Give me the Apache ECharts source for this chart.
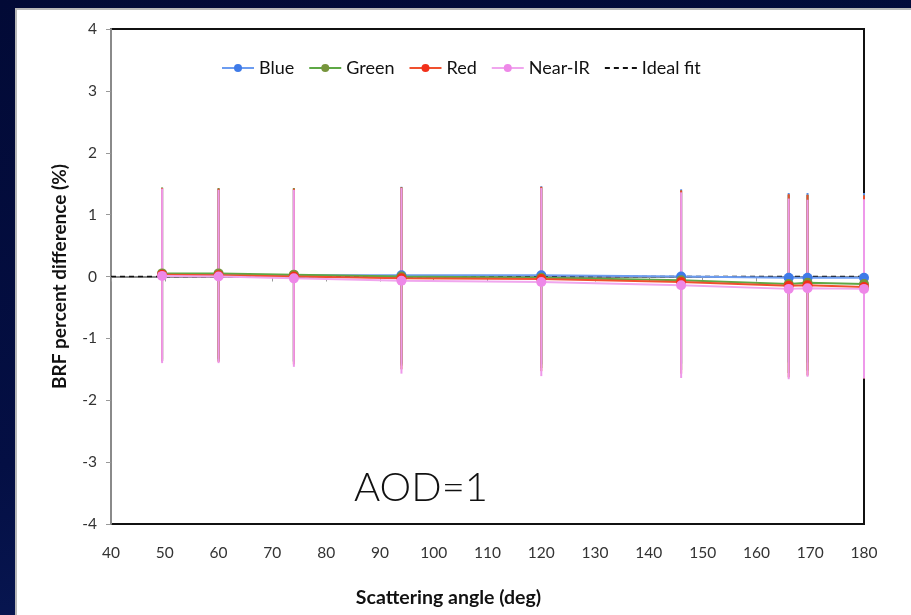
<!DOCTYPE html>
<html>
<head>
<meta charset="utf-8">
<script src="https://cdn.jsdelivr.net/npm/echarts@6/dist/echarts.min.js"></script>
<style>
html,body{margin:0;padding:0;width:911px;height:615px;overflow:hidden;
  background:linear-gradient(170deg,#020a36 0%,#040f44 60%,#0a1c5c 100%);}
#panel{position:absolute;left:15px;top:8px;width:896px;height:607px;background:#fff;
  border-left:2px solid #b8b8b8;border-top:2px solid #b8b8b8;box-sizing:border-box;}
#chart{position:absolute;left:0;top:0;width:911px;height:615px;}
</style>
</head>
<body>
<div id="panel"></div>
<div id="chart"></div>
<script>
const angles = [49.5, 60, 74, 94, 120, 146, 166, 169.5, 180];
const blueVals  = [0.03, 0.03, 0.02, 0.02, 0.02, 0.00, -0.02, -0.02, -0.02];
const greenVals = [0.05, 0.05, 0.03, 0.00, -0.02, -0.06, -0.12, -0.10, -0.12];
const redVals   = [0.03, 0.02, 0.00, -0.03, -0.04, -0.09, -0.15, -0.14, -0.17];
const nirVals   = [0.01, 0.00, -0.03, -0.07, -0.09, -0.14, -0.20, -0.19, -0.20];
const blueErr  = [1.40, 1.39, 1.40, 1.43, 1.44, 1.41, 1.37, 1.37, 1.37];
const greenErr = [1.39, 1.38, 1.40, 1.44, 1.46, 1.45, 1.44, 1.42, 1.43];
const redErr   = [1.40, 1.40, 1.42, 1.47, 1.49, 1.48, 1.48, 1.46, 1.48];
const nirErr   = [1.41, 1.40, 1.43, 1.50, 1.52, 1.50, 1.46, 1.43, 1.45];
const idealX = [40, 180];
const idealY = [0, 0];
const xTicks = {min: 40, max: 180, interval: 10};
const yTicks = {min: -4, max: 4, interval: 1};

const FONT = 'Lato';
const chart = echarts.init(document.getElementById('chart'));

function pairs(xs, ys){ return xs.map((x,i)=>[x, ys[i]]); }
function errSeries(name, vals, errs, color, z){
  return {
    type: 'custom', name: name + ' err', z: z, silent: true,
    data: angles.map((x,i)=>[x, vals[i] - errs[i], vals[i] + errs[i]]),
    renderItem: function(params, api){
      const lo = api.coord([api.value(0), api.value(1)]);
      const hi = api.coord([api.value(0), api.value(2)]);
      return {type:'line', shape:{x1:lo[0], y1:lo[1], x2:hi[0], y2:hi[1]},
        style:{stroke: color, lineWidth: 2}};
    }
  };
}
function lineSeries(name, vals, lineColor, dotColor, z){
  return {
    type:'line', name:name, z:z, data: pairs(angles, vals),
    symbol:'circle', symbolSize: 10,
    lineStyle:{color: lineColor, width: 2},
    itemStyle:{color: dotColor},
    emphasis:{disabled:true}
  };
}

chart.setOption({
  backgroundColor: 'transparent',
  animation: false,
  textStyle: {fontFamily: FONT},
  grid: {left: 111, top: 29, right: 47, bottom: 91, show: true,
    backgroundColor: '#fff', borderColor: '#111', borderWidth: 2},
  legend: {
    top: 54, left: 216,
    itemWidth: 32, itemHeight: 10, itemGap: 14,
    textStyle: {fontFamily: FONT, fontSize: 18, color: '#111'},
    data: ['Blue', 'Green', 'Red', 'Near-IR', {name: 'Ideal fit', itemStyle: {opacity: 0}}]
  },
  xAxis: {
    type: 'value', min: xTicks.min, max: xTicks.max, interval: xTicks.interval,
    name: 'Scattering angle (deg)', nameLocation: 'middle', nameGap: 64,
    nameTextStyle: {fontFamily: FONT, fontSize: 19.5, fontWeight: 'bold', color: '#111',
      padding: [0, 78, 0, 0]},
    axisLine: {lineStyle: {color: '#8a8a8a', width: 2}},
    axisTick: {show: true, length: 5, lineStyle: {color: '#999'}},
    axisLabel: {fontFamily: FONT, fontSize: 15.5, color: '#333', margin: 21},
    splitLine: {show: false}
  },
  yAxis: {
    type: 'value', min: yTicks.min, max: yTicks.max, interval: yTicks.interval,
    name: 'BRF percent difference (%)', nameLocation: 'middle', nameGap: 42,
    nameTextStyle: {fontFamily: FONT, fontSize: 19, fontWeight: 'bold', color: '#111'},
    axisLine: {show: true, lineStyle: {color: '#8a8a8a', width: 2}},
    axisTick: {show: true, length: 5, lineStyle: {color: '#999'}},
    axisLabel: {fontFamily: FONT, fontSize: 15.5, color: '#333', margin: 14},
    splitLine: {show: false}
  },
  graphic: [{
    type: 'text', left: 354, top: 468, z: 100,
    style: {text: 'AOD=1', font: '300 40px ' + FONT, fill: '#111'}
  }],
  series: [
    errSeries('Blue', blueVals, blueErr, '#5b8ee8', 2),
    errSeries('Green', greenVals, greenErr, '#6a9a3a', 2),
    errSeries('Red', redVals, redErr, '#e8502c', 2),
    errSeries('Near-IR', nirVals, nirErr, '#ee99ea', 3),
    {type:'line', name:'Ideal fit', z:4, data: pairs(idealX, idealY), symbol:'none',
      lineStyle:{color:'#111', width:1.5, type:[5,4]}, itemStyle:{color:'#111'}},
    lineSeries('Blue', blueVals, '#6c9cf0', '#3f7be8', 5),
    lineSeries('Green', greenVals, '#5ea845', '#77953c', 6),
    lineSeries('Red', redVals, '#f0502e', '#f2301a', 7),
    lineSeries('Near-IR', nirVals, '#f0a6ee', '#ee88e8', 8)
  ]
});
</script>
</body>
</html>
